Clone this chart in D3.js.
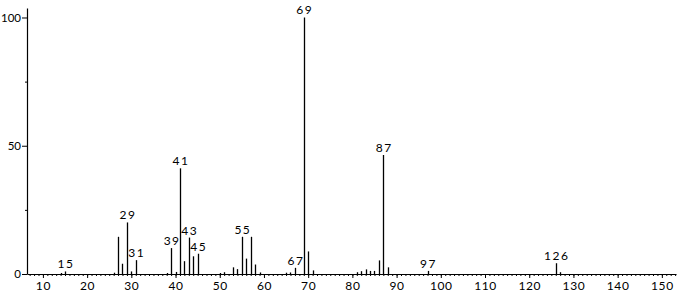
<!DOCTYPE html>
<html lang="en">
<head>
<meta charset="utf-8">
<title>Mass spectrum</title>
<script src="https://cdn.jsdelivr.net/npm/d3@7"></script>
<style>
  body { margin: 0; background: #fff; }
  svg text { font-family: "Lato", "DejaVu Sans", sans-serif; font-size: 12px; fill: #000; }
</style>
</head>
<body>
<div id="chart"></div>
<script>
// m/z values and relative intensities (%)
var mz        = [14, 15, 26, 27, 28, 29, 30, 31, 38, 39, 40, 41, 42, 43, 44, 45, 50, 51, 53, 54, 55, 56, 57, 58, 59, 65, 66, 67, 69, 70, 71, 81, 82, 83, 84, 85, 86, 87, 88, 97, 126, 127];
var intensity = [0.4, 1.0, 0.5, 14.5, 4.0, 20.1, 1.0, 5.4, 0.4, 10.1, 0.8, 41.2, 5.0, 14.2, 6.9, 7.9, 0.4, 0.7, 2.6, 1.9, 14.5, 6.0, 14.5, 3.7, 0.6, 0.5, 0.6, 2.4, 100, 8.8, 1.4, 0.7, 1.1, 1.8, 1.2, 1.2, 5.3, 46.4, 2.6, 1.2, 4.2, 0.7];
var labelled  = [15, 29, 31, 39, 41, 43, 45, 55, 67, 69, 87, 97, 126];
var xTicks    = [10, 20, 30, 40, 50, 60, 70, 80, 90, 100, 110, 120, 130, 140, 150];
var yTicks    = [0, 50, 100];

var w = 680, h = 296;

var svg = d3.select("#chart").append("svg")
    .attr("width", w)
    .attr("height", h);

// scales
var x = d3.scaleLinear().domain([6.4, 153.2]).range([27, 676]);
var y = d3.scaleLinear().domain([0, 103.7]).range([274, 8]);

// x axis: minor ticks every unit, major every 10
svg.append("g")
    .attr("transform", "translate(0,274)")
    .call(d3.axisBottom(x).tickValues(d3.range(7, 154)).tickSize(2).tickSizeOuter(0).tickFormat(""))
    .call(function(g) { g.select(".domain").attr("stroke-width", 1.2); });

svg.append("g")
    .attr("transform", "translate(0,274)")
    .call(d3.axisBottom(x).tickValues(xTicks).tickSize(4).tickSizeOuter(0).tickPadding(3))
    .call(function(g) {
        g.select(".domain").remove();
        g.selectAll("text").style("font-size", "12px").style("letter-spacing", "0.6px");
    });

// y axis
svg.append("g")
    .attr("transform", "translate(27,0)")
    .call(d3.axisLeft(y).tickValues([25, 75]).tickSize(2).tickSizeOuter(0).tickFormat(""))
    .call(function(g) { g.select(".domain").attr("stroke-width", 1.2); });

svg.append("g")
    .attr("transform", "translate(27,0)")
    .call(d3.axisLeft(y).tickValues(yTicks).tickSize(5).tickSizeOuter(0).tickPadding(1))
    .call(function(g) {
        g.select(".domain").remove();
        g.selectAll("text").style("font-size", "11.5px");
    });

var peaks = mz.map(function(m, i) { return { mz: m, v: intensity[i] }; });

// peak sticks
svg.selectAll("line.peak")
    .data(peaks)
    .enter()
    .append("line")
    .attr("class", "peak")
    .attr("x1", function(d) { return Math.round(x(d.mz)) + 0.5; })
    .attr("x2", function(d) { return Math.round(x(d.mz)) + 0.5; })
    .attr("y1", y(0))
    .attr("y2", function(d) { return y(d.v); })
    .attr("stroke", "#000")
    .attr("stroke-width", 1.3);

// peak labels
svg.selectAll("text.lab")
    .data(peaks.filter(function(d) { return labelled.indexOf(d.mz) >= 0; }))
    .enter()
    .append("text")
    .attr("class", "lab")
    .attr("x", function(d) { return x(d.mz) + 1; })
    .attr("y", function(d) { return y(d.v) - 3; })
    .attr("text-anchor", "middle")
    .style("letter-spacing", "1.5px")
    .text(function(d) { return d.mz; });
</script>
</body>
</html>
